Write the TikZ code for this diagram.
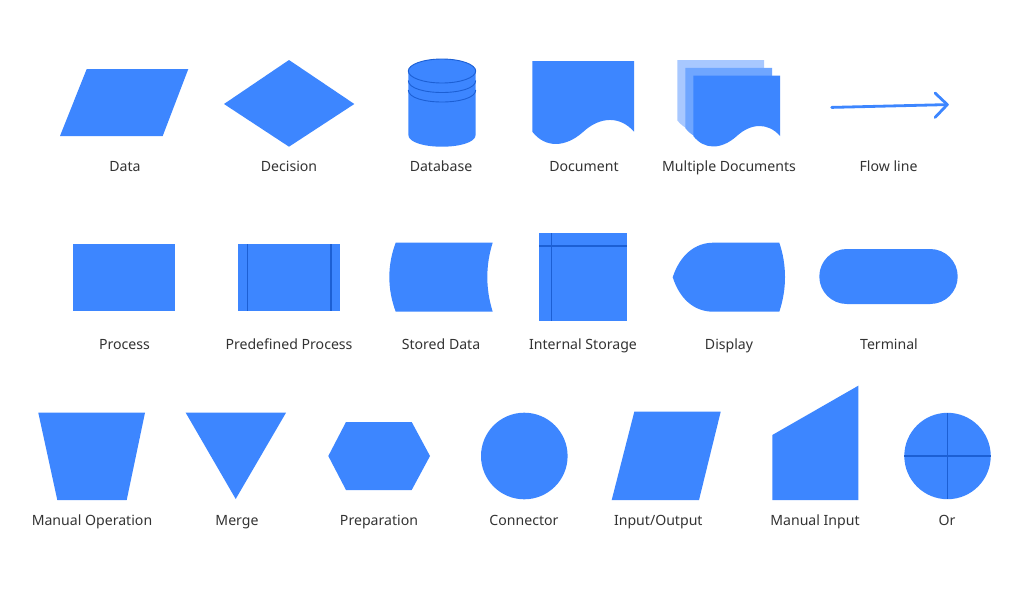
\documentclass[tikz,border=0pt]{standalone}
\usepackage{fontspec}
\setmainfont{Noto Sans}
\definecolor{fcblue}{HTML}{3D86FF}
\definecolor{fcline}{HTML}{1C5FD4}
\definecolor{fcback}{HTML}{A8C8FF}
\definecolor{fcmid}{HTML}{6FA6FF}
\definecolor{fctext}{HTML}{333333}
\newcommand{\fcdocpath}{(0,0) -- (101.7,0) -- (101.7,70.7) .. controls (88,55) and (68,55) .. (50.7,71) .. controls (32.7,87) and (12.7,87) .. (0,70.7) -- cycle}
\begin{document}
\begin{tikzpicture}[x=1pt,y=-1pt,
  shapefill/.style={fill=fcblue, draw=none},
  innerline/.style={draw=fcline, line width=1.3pt},
  lbl/.style={text=fctext, font=\fontsize{14.1}{17}\selectfont, inner sep=0pt, anchor=base}]
\useasboundingbox[fill=white] (0,0) rectangle (1024,589);

% ---------- Row 1 ----------
% Data
\fill[shapefill] (86.7,69) -- (188.3,69) -- (162.7,136) -- (60,136) -- cycle;
\node[lbl] (ldata) at (125,171.5) {Data};
% Decision
\fill[shapefill] (289,60) -- (354.3,104) -- (289,146.7) -- (224,104) -- cycle;
\node[lbl] (ldecision) at (289,171.5) {Decision};
% Database
\fill[shapefill] (408.3,71) -- (408.3,134.7) .. controls (408.3,150.7) and (475.7,150.7) .. (475.7,134.7) -- (475.7,71) -- cycle;
\fill[shapefill] (442,71) ellipse [x radius=33.7pt, y radius=12pt];
\draw[fcline, line width=0.9pt] (442,71) ellipse [x radius=33.7pt, y radius=12pt];
\draw[fcline, line width=0.9pt] (408.3,80.5) .. controls (408.3,96.5) and (475.7,96.5) .. (475.7,80.5);
\draw[fcline, line width=0.9pt] (408.3,90) .. controls (408.3,106) and (475.7,106) .. (475.7,90);
\node[lbl] (ldatabase) at (441,171.5) {Database};
% Document
\fill[fcblue, shift={(532.3,61)}] \fcdocpath;
\node[lbl] (ldocument) at (584,171.5) {Document};
% Multiple documents
\fill[fcback, shift={(677.3,60)}, scale=0.853] \fcdocpath;
\fill[fcmid, shift={(685.3,67.8)}, scale=0.853] \fcdocpath;
\fill[fcblue, shift={(693.3,75.7)}, scale=0.853] \fcdocpath;
\node[lbl] (lmulti) at (729,171.5) {Multiple Documents};
% Flow line
\coordinate (flowstart) at (831.7,107.4);
\coordinate (flowtip) at (947.3,104.6);
\coordinate (flowup) at (935,93);
\coordinate (flowdown) at (935,117.5);
\draw[fcblue, line width=2.8pt, line cap=round, line join=round] (flowstart) -- (flowtip);
\draw[fcblue, line width=2.8pt, line cap=round, line join=round] (flowup) -- (flowtip) -- (flowdown);
\node[lbl] (lflow) at (888.5,171.5) {Flow line};

% ---------- Row 2 ----------
% Process
\fill[shapefill] (72.7,244) rectangle (175.3,311.3);
\node[lbl] (lprocess) at (124.5,349) {Process};
% Predefined process
\fill[shapefill] (237.7,244) rectangle (340,311.3);
\draw[innerline] (247.7,244) -- (247.7,311.3);
\draw[innerline] (331,244) -- (331,311.3);
\node[lbl] (lpredef) at (289,349) {Predefined Process};
% Stored data
\fill[shapefill] (395.7,242.7) -- (492.7,242.7) .. controls (485.5,265) and (485.5,289) .. (492.7,311.7) -- (395.7,311.7) .. controls (387.2,289) and (387.2,265) .. cycle;
\node[lbl] (lstored) at (441,349) {Stored Data};
% Internal storage
\fill[shapefill] (539.3,233.3) rectangle (627.3,321.3);
\draw[innerline] (551.7,233.3) -- (551.7,321.3);
\draw[innerline] (539.3,246) -- (627.3,246);
\node[lbl] (linternal) at (583,349) {Internal Storage};
% Display
\fill[shapefill] (713.3,242.7) -- (779.3,242.7) .. controls (786.9,265) and (786.9,289) .. (779.3,311.7) -- (713.3,311.7) .. controls (695,311.7) and (680,300) .. (672.7,277.2) .. controls (680,255) and (695,242.7) .. cycle;
\node[lbl] (ldisplay) at (729,349) {Display};
% Terminal
\fill[shapefill, rounded corners=27.5pt] (819.3,249) rectangle (957.7,304);
\node[lbl] (lterminal) at (889,349) {Terminal};

% ---------- Row 3 ----------
% Manual operation
\fill[shapefill] (38.3,412.7) -- (145,412.7) -- (126.7,500) -- (57.3,500) -- cycle;
\node[lbl] (lmanop) at (92,525) {Manual Operation};
% Merge
\fill[shapefill] (185.7,412.7) -- (286,412.7) -- (235.7,499) -- cycle;
\node[lbl] (lmerge) at (237,525) {Merge};
% Preparation
\fill[shapefill] (328.3,456) -- (346,422) -- (411.7,422) -- (430,456) -- (411.7,490) -- (346,490) -- cycle;
\node[lbl] (lprep) at (379,525) {Preparation};
% Connector
\fill[shapefill] (524.3,456) circle [radius=43.3pt];
\node[lbl] (lconnector) at (524,525) {Connector};
% Input/Output
\fill[shapefill] (634.3,411.7) -- (720.7,411.7) -- (699,500) -- (611.7,500) -- cycle;
\node[lbl] (lio) at (658.3,525) {Input/Output};
% Manual input
\fill[shapefill] (772.3,435) -- (858.3,385.7) -- (858.3,500) -- (772.3,500) -- cycle;
\node[lbl] (lmanin) at (815,525) {Manual Input};
% Or
\fill[shapefill] (947.5,456) circle [radius=43.2pt];
\draw[innerline] (904.3,456) -- (990.7,456);
\draw[innerline] (947.5,412.8) -- (947.5,499.2);
\node[lbl] (lor) at (947,525) {Or};
\end{tikzpicture}
\end{document}
